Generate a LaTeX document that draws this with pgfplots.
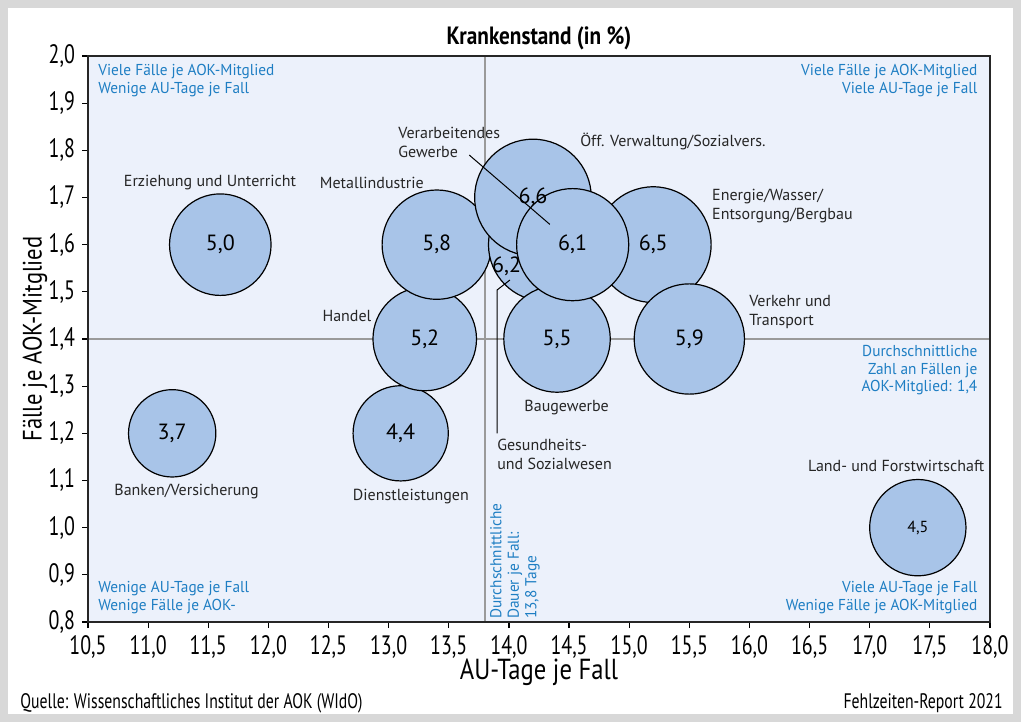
\documentclass[border=0pt]{standalone}
\usepackage{fontspec}
\setmainfont{PT Sans}
\newfontfamily\cond[FakeStretch=0.75]{PT Sans}
\newfontfamily\labcond[FakeStretch=0.85]{PT Sans}
\newfontfamily\semicond[FakeStretch=0.97]{PT Sans}
\usepackage{pgfplots}
\pgfplotsset{compat=1.18}
\usepackage{pgfplotstable}
\definecolor{bgblue}{HTML}{ECF1FB}
\definecolor{bubble}{HTML}{A8C4E8}
\definecolor{txtblue}{HTML}{1E7EC3}
\definecolor{refgray}{HTML}{9A9A9A}
\definecolor{framegray}{HTML}{D8D8D8}

\pgfplotstableread{
x y v
11.2 1.2 3.7
11.6 1.6 5.0
13.1 1.2 4.4
13.3 1.4 5.2
13.4 1.6 5.8
14.3 1.6 6.2
14.2 1.7 6.6
15.2 1.6 6.5
14.4 1.4 5.5
15.5 1.4 5.9
14.53 1.6 6.1
17.4 1.0 4.5
}\bubbles

\begin{document}
\begin{tikzpicture}[x=1pt,y=1pt]
\draw[framegray, line width=4pt] (2,2) rectangle (508.5,359);
\begin{axis}[
  set layers,
  at={(44pt,50pt)}, anchor=south west,
  scale only axis, width=451pt, height=283pt,
  xmin=10.5, xmax=18, ymin=0.8, ymax=2.0,
  xtick={10.5,11,...,18.01}, ytick={0.8,0.9,...,2.01},
  tick pos=left, tick align=outside,
  major tick length=3pt,
  tick style={black, line width=0.6pt},
  axis line style={line width=0.8pt, black!85},
  axis background/.style={fill=bgblue},
  /pgf/number format/.cd, fixed, fixed zerofill, precision=1, use comma, assume math mode=true,
  /pgfplots/.cd,
  tick label style={font=\cond\fontsize{13.3}{13.3}\selectfont},
  xlabel={AU-Tage je Fall},
  ylabel={Fälle je AOK-Mitglied},
  every axis x label/.style={at={(axis description cs:0.5,-0.0883)}, anchor=center, font=\labcond\fontsize{14.5}{14.5}\selectfont},
  every axis y label/.style={at={(axis description cs:-0.0588,0.5)}, rotate=90, anchor=center, font=\labcond\fontsize{13.3}{13.3}\selectfont},
  title={Krankenstand (in \%)},
  every axis title/.style={at={(axis description cs:0.5,1)}, anchor=center, yshift=9pt, font=\labcond\bfseries\fontsize{12.5}{13}\selectfont},
  clip=false,
]
% reference lines (below the bubbles)
\begin{pgfonlayer}{axis grid}
\draw[refgray, line width=0.75pt] (axis cs:13.8,0.8) -- (axis cs:13.8,2.0);
\draw[refgray, line width=0.75pt] (axis cs:10.5,1.4) -- (axis cs:18,1.4);
\end{pgfonlayer}

\addplot[scatter, only marks, mark=*,
  scatter/use mapped color={draw=black, fill=bubble},
  mark options={line width=0.6pt},
  visualization depends on={11.35*sqrt(\thisrow{v}) \as \bubr},
  scatter/@pre marker code/.append style={/tikz/mark size=\bubr}]
  table {\bubbles};

\begin{pgfonlayer}{axis foreground}
% values in bubbles
\begin{scope}[every node/.style={font=\fontsize{11}{11}\selectfont, inner sep=0pt}]
\node at (axis cs:11.2,1.2) {3,7};
\node at (axis cs:11.6,1.6) {5,0};
\node at (axis cs:13.1,1.2) {4,4};
\node at (axis cs:13.3,1.4) {5,2};
\node at (axis cs:13.4,1.6) {5,8};
\node at (axis cs:13.98,1.555) {6,2};
\node at (axis cs:14.2,1.7) {6,6};
\node at (axis cs:15.2,1.6) {6,5};
\node at (axis cs:14.4,1.4) {5,5};
\node at (axis cs:15.5,1.4) {5,9};
\node at (axis cs:14.53,1.6) {6,1};
\node[font=\fontsize{8}{9}\selectfont] at (axis cs:17.4,1.0) {4,5};
\end{scope}

% leader lines
\draw[black, line width=0.5pt] (axis cs:13.67,1.79) -- (axis cs:14.34,1.643);
\draw[black, line width=0.5pt] (axis cs:14.008,1.525) -- (axis cs:13.902,1.504) -- (axis cs:13.902,1.20);

% category labels
\begin{scope}[every node/.style={font=\fontsize{8}{9.5}\selectfont, inner sep=0pt, text=black!85}]
\node at (axis cs:11.514,1.731) {Erziehung und Unterricht};
\node at (axis cs:12.86,1.731) {Metallindustrie};
\node[anchor=west, align=left] at (axis cs:13.077,1.816) {Verarbeitendes\\Gewerbe};
\node[anchor=west] at (axis cs:14.59,1.818) {Öff. Verwaltung/Sozialvers.};
\node[anchor=west, align=left] at (axis cs:15.687,1.681) {Energie/Wasser/\\Entsorgung/Bergbau};
\node[anchor=west, align=left] at (axis cs:15.995,1.457) {Verkehr und\\Transport};
\node at (axis cs:12.653,1.449) {Handel};
\node at (axis cs:14.48,1.254) {Baugewerbe};
\node[anchor=west, align=left] at (axis cs:13.90,1.156) {Gesundheits-\\und Sozialwesen};
\node at (axis cs:11.32,1.076) {Banken/Versicherung};
\node at (axis cs:13.185,1.067) {Dienstleistungen};
\node at (axis cs:17.22,1.131) {Land- und Forstwirtschaft};
\end{scope}

% quadrant / reference texts
\begin{scope}[every node/.style={font=\semicond\fontsize{7.9}{8.8}\selectfont, inner sep=0pt, text=txtblue}]
\node[anchor=north west, align=left] at (axis cs:10.583,1.983) {Viele Fälle je AOK-Mitglied\\Wenige AU-Tage je Fall};
\node[anchor=north east, align=right] at (axis cs:17.898,1.983) {Viele Fälle je AOK-Mitglied\\Viele AU-Tage je Fall};
\node[anchor=north east, align=right] at (axis cs:17.898,1.387) {Durchschnittliche\\Zahl an Fällen je\\AOK-Mitglied: 1,4};
\node[anchor=south west, align=left] at (axis cs:10.583,0.817) {Wenige AU-Tage je Fall\\Wenige Fälle je AOK-};
\node[anchor=south east, align=right] at (axis cs:17.898,0.817) {Viele AU-Tage je Fall\\Wenige Fälle je AOK-Mitglied};
\node[rotate=90, anchor=north west, align=left] at (axis cs:13.84,0.806) {Durchschnittliche\\Dauer je Fall:\\13,8 Tage};
\end{scope}
\end{pgfonlayer}
\end{axis}
\node[anchor=west, inner sep=0pt, font=\cond\fontsize{10.5}{11}\selectfont] at (10,9.5) {Quelle: Wissenschaftliches Institut der AOK (WIdO)};
\node[anchor=east, inner sep=0pt, font=\cond\fontsize{10.5}{11}\selectfont] at (501.5,9.5) {Fehlzeiten-Report 2021};
\end{tikzpicture}
\end{document}
